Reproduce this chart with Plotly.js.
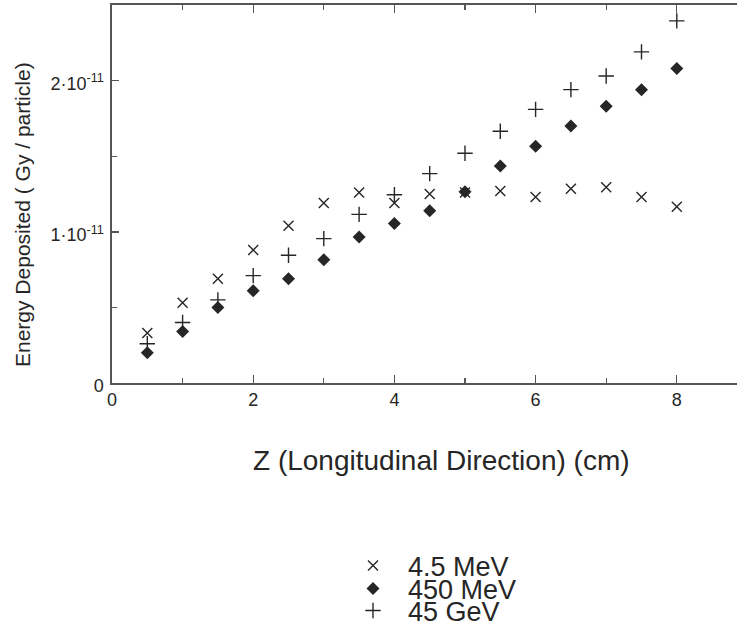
<!DOCTYPE html>
<html>
<head>
<meta charset="utf-8">
<script src="https://cdn.plot.ly/plotly-3.0.1.min.js"></script>
<style>
  html, body { margin: 0; padding: 0; background: #fff; overflow: hidden; }
  #chart { width: 737px; height: 623px; }
</style>
</head>
<body>
<div id="chart"></div>
<script>
// Depth along the longitudinal direction (cm)
const zPositions = [0.5, 1, 1.5, 2, 2.5, 3, 3.5, 4, 4.5, 5, 5.5, 6, 6.5, 7, 7.5, 8];

// Energy deposited per particle (Gy / particle)
const dose4_5MeV = [0.33e-11, 0.53e-11, 0.69e-11, 0.88e-11, 1.04e-11, 1.19e-11, 1.26e-11, 1.19e-11,
                    1.25e-11, 1.26e-11, 1.27e-11, 1.23e-11, 1.285e-11, 1.295e-11, 1.23e-11, 1.165e-11];
const dose450MeV = [0.20e-11, 0.34e-11, 0.50e-11, 0.61e-11, 0.69e-11, 0.815e-11, 0.965e-11, 1.055e-11,
                    1.14e-11, 1.265e-11, 1.435e-11, 1.565e-11, 1.70e-11, 1.83e-11, 1.94e-11, 2.08e-11];
const dose45GeV  = [0.26e-11, 0.40e-11, 0.55e-11, 0.71e-11, 0.845e-11, 0.955e-11, 1.115e-11, 1.245e-11,
                    1.385e-11, 1.52e-11, 1.665e-11, 1.81e-11, 1.94e-11, 2.03e-11, 2.19e-11, 2.395e-11];

const seriesNames = ['4.5 MeV', '450 MeV', '45 GeV'];

// Axis ticks
const xTickVals = [0, 2, 4, 6, 8];
const yTickVals = [0, 1e-11, 2e-11];
const yTickText = ['0', '1·10<sup>-11</sup>', '2·10<sup>-11</sup>'];

const ink = '#262626';
const font = 'Liberation Sans, Arial, Helvetica, sans-serif';

const traces = [
  {
    x: zPositions, y: dose4_5MeV, name: seriesNames[0], type: 'scatter', mode: 'markers',
    marker: { symbol: 'x-thin-open', size: 10, color: ink, line: { color: ink, width: 1.4 } },
    legend: 'legend'
  },
  {
    x: zPositions, y: dose450MeV, name: seriesNames[1], type: 'scatter', mode: 'markers',
    marker: { symbol: 'diamond', size: 10, color: ink, line: { width: 0 } },
    legend: 'legend2'
  },
  {
    x: zPositions, y: dose45GeV, name: seriesNames[2], type: 'scatter', mode: 'markers',
    marker: { symbol: 'cross-thin-open', size: 11, color: ink, line: { color: ink, width: 1.4 } },
    legend: 'legend3'
  }
];

const plotLeft = 112, plotTop = 5, plotBottom = 383, W = 737;
const pw = W - plotLeft, ph = plotBottom - plotTop;
const px = v => (v - plotLeft) / pw;
const py = v => (plotBottom - v) / ph;

// One legend per series so each row sits at its own height
const legendBase = {
  xanchor: 'left', yanchor: 'middle', bgcolor: 'rgba(0,0,0,0)', borderwidth: 0,
  font: { family: font, size: 27, color: ink }, itemwidth: 60, itemsizing: 'trace'
};

const layout = {
  width: W, height: 623,
  margin: { l: plotLeft, r: 0, t: plotTop, b: 623 - plotBottom, pad: 0, autoexpand: false },
  paper_bgcolor: '#fff', plot_bgcolor: '#fff',
  font: { family: font, color: ink },
  showlegend: true,
  legend:  Object.assign({}, legendBase, { x: px(338), y: py(566) }),
  legend2: Object.assign({}, legendBase, { x: px(338), y: py(589) }),
  legend3: Object.assign({}, legendBase, { x: px(338), y: py(611) }),
  xaxis: {
    range: [0, (W - plotLeft) / 70.6],
    tickvals: xTickVals, ticks: 'inside', ticklen: 8, tickwidth: 1.4, tickcolor: '#555',
    minor: { dtick: 1, tick0: 0, ticks: 'inside', ticklen: 5, tickwidth: 1.2, tickcolor: '#555', showgrid: false },
    showline: true, linecolor: '#555', linewidth: 1.6, mirror: 'ticks',
    showgrid: false, zeroline: false,
    tickfont: { family: font, size: 18, color: ink }, ticklabelstandoff: 0
  },
  yaxis: {
    range: [0, 2.5e-11],
    tickvals: yTickVals, ticktext: yTickText, ticks: 'inside', ticklen: 7, tickwidth: 1.4, tickcolor: '#555',
    minor: { dtick: 0.5e-11, tick0: 0, ticks: 'inside', ticklen: 5, tickwidth: 1.2, tickcolor: '#555', showgrid: false },
    showline: true, linecolor: '#555', linewidth: 1.6, mirror: false,
    showgrid: false, zeroline: false,
    tickfont: { family: font, size: 18, color: ink }, ticklabelstandoff: 3, ticklabelshift: 3
  },
  annotations: [
    {
      text: 'Z (Longitudinal Direction) (cm)', xref: 'paper', yref: 'paper',
      x: px(441), y: py(460), xanchor: 'center', yanchor: 'middle', showarrow: false,
      font: { family: font, size: 28, color: ink }
    },
    {
      text: 'Energy Deposited ( Gy / particle)', xref: 'paper', yref: 'paper',
      x: px(22), y: py(215), xanchor: 'center', yanchor: 'middle', showarrow: false,
      textangle: -90, font: { family: font, size: 21, color: ink }
    }
  ]
};

Plotly.newPlot('chart', traces, layout, { staticPlot: true, displayModeBar: false });
</script>
</body>
</html>
